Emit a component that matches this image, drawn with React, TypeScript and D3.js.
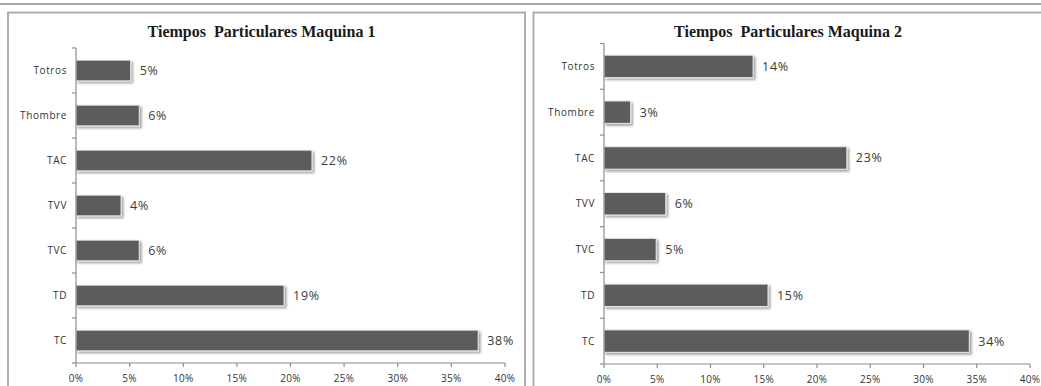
import React from "react";
import * as d3 from "d3";

const categories = ["Totros", "Thombre", "TAC", "TVV", "TVC", "TD", "TC"];
const machine1Values = [5.1, 5.9, 22.0, 4.2, 5.9, 19.4, 37.5];
const machine1Labels = ["5%", "6%", "22%", "4%", "6%", "19%", "38%"];
const machine2Values = [14.0, 2.5, 22.8, 5.8, 4.9, 15.4, 34.3];
const machine2Labels = ["14%", "3%", "23%", "6%", "5%", "15%", "34%"];
const xTicks = [0, 5, 10, 15, 20, 25, 30, 35, 40];
const titles = ["Tiempos  Particulares Maquina 1", "Tiempos  Particulares Maquina 2"];

const W = 1041;
const H = 386;
const AXIS = "#8c8c8c";
const SANS = "'Open Sans', 'DejaVu Sans', sans-serif";

type PanelProps = {
  frameX: number;
  frameW: number;
  x0: number;
  x1: number;
  y0: number;
  y1: number;
  pad: number;
  title: string;
  values: number[];
  labels: string[];
};

function Panel({ frameX, frameW, x0, x1, y0, y1, pad, title, values, labels }: PanelProps) {
  const x = d3.scaleLinear().domain([0, 40]).range([x0, x1]);
  const y = d3
    .scaleBand<string>()
    .domain(categories)
    .range([y0, y1])
    .paddingInner(pad)
    .paddingOuter(pad / 2);
  const step = y.step();
  const boundaries = d3.range(categories.length + 1).map((i) => y0 + i * step);
  return (
    <g>
      <rect x={frameX} y={12.5} width={frameW} height={420} fill="#fff" stroke="#a6a6a6" strokeWidth={1.8} />
      <text
        x={(x0 + x1) / 2 - 29}
        y={37}
        textAnchor="middle"
        fontFamily="'Liberation Serif', 'DejaVu Serif', serif"
        fontWeight="bold"
        fontSize={16}
        fill="#1a1a1a"
        style={{ whiteSpace: "pre" }}
      >
        {title}
      </text>
      {categories.map((c, i) => (
        <g key={c}>
          <rect
            x={x(0)}
            y={y(c)!}
            width={x(values[i]) - x(0)}
            height={y.bandwidth()}
            fill="#5c5c5c"
            stroke="#e8e8e8"
            strokeWidth={1}
            filter="url(#shadow)"
          />
          <text
            x={x(values[i]) + 9}
            y={y(c)! + y.bandwidth() / 2}
            dy="0.36em"
            fontFamily={SANS}
            fontSize={12.5}
            letterSpacing={0.7}
            fill="#3a3a3a"
          >
            {labels[i]}
          </text>
          <text
            x={x0 - 9}
            y={y(c)! + y.bandwidth() / 2}
            dy="0.36em"
            textAnchor="end"
            fontFamily={SANS}
            fontSize={10}
            letterSpacing={0.6}
            fill="#333"
          >
            {c}
          </text>
        </g>
      ))}
      <line x1={x0} x2={x0} y1={y0} y2={y1} stroke={AXIS} strokeWidth={1.2} />
      {boundaries.map((b, i) => (
        <line key={i} x1={x0 - 4} x2={x0} y1={b} y2={b} stroke={AXIS} strokeWidth={1.2} />
      ))}
      <line x1={x0} x2={x1} y1={y1} y2={y1} stroke={AXIS} strokeWidth={1.2} />
      {xTicks.map((t) => (
        <g key={t}>
          <line x1={x(t)} x2={x(t)} y1={y1} y2={y1 + 4} stroke={AXIS} strokeWidth={1.2} />
          <text
            x={x(t)}
            y={y1 + 15.5}
            dy="0.36em"
            textAnchor="middle"
            fontFamily={SANS}
            fontSize={10}
            letterSpacing={0.3}
            fill="#333"
          >
            {t + "%"}
          </text>
        </g>
      ))}
    </g>
  );
}

export default function App() {
  return (
    <svg
      width={W}
      height={H}
      style={{ position: "absolute", left: 0, top: 0, background: "#fff" }}
    >
      <defs>
        <filter id="shadow" x="-5%" y="-20%" width="115%" height="160%">
          <feDropShadow dx={2} dy={2} stdDeviation={1} floodColor="#000" floodOpacity={0.35} />
        </filter>
      </defs>
      <rect x={0} y={0} width={W} height={H} fill="#fff" />
      <line x1={0} x2={W} y1={4} y2={4} stroke="#8a8a8a" strokeWidth={1.5} />
      <Panel
        frameX={8}
        frameW={517}
        x0={76}
        x1={505}
        y0={48}
        y1={363}
        pad={0.54}
        title={titles[0]}
        values={machine1Values}
        labels={machine1Labels}
      />
      <Panel
        frameX={533.5}
        frameW={560}
        x0={604}
        x1={1030}
        y0={43.5}
        y1={364}
        pad={0.51}
        title={titles[1]}
        values={machine2Values}
        labels={machine2Labels}
      />
    </svg>
  );
}
